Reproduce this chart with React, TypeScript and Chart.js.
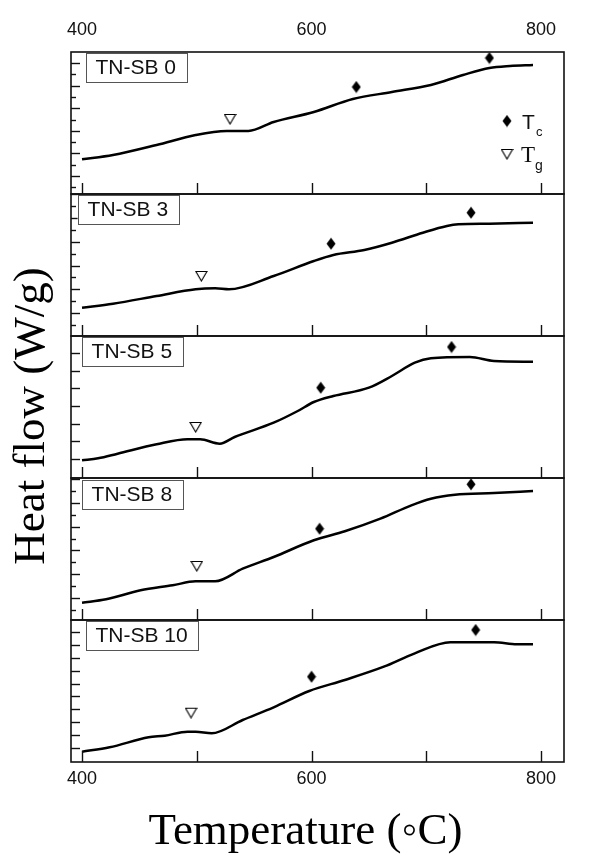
import React, { useEffect, useRef } from 'react';
import { Chart, registerables } from 'chart.js';

Chart.register(...registerables);

// ---- data (heat flow in arbitrary units, offset per panel) ----
const panelNames = ['TN-SB 0', 'TN-SB 3', 'TN-SB 5', 'TN-SB 8', 'TN-SB 10'];

const temp0 = [400, 427, 465, 499, 526, 545, 567, 602, 636, 670, 704, 732, 755, 773, 793];
const flow0 = [3.47, 3.9, 4.9, 5.9, 6.3, 6.3, 7.2, 8.2, 9.5, 10.2, 10.9, 11.9, 12.6, 12.8, 12.9];

const temp1 = [400, 427, 465, 499, 516, 528, 567, 602, 619, 646, 670, 697, 718, 728, 755, 793];
const flow1 = [2.83, 3.23, 4.0, 4.67, 4.77, 4.67, 6.0, 7.5, 8.1, 8.6, 9.33, 10.33, 11.0, 11.17, 11.23, 11.33];

const temp2 = [400, 414, 431, 465, 492, 503, 520, 533, 567, 588, 602, 619, 650, 670, 690, 704, 738, 759, 793];
const flow2 = [1.77, 1.97, 2.43, 3.37, 3.87, 3.87, 3.43, 4.1, 5.53, 6.7, 7.6, 8.2, 9.03, 10.2, 11.53, 11.97, 12.1, 11.7, 11.63];

const temp3 = [400, 421, 451, 479, 499, 516, 540, 567, 602, 629, 660, 687, 704, 725, 759, 793];
const flow3 = [1.73, 2.07, 2.97, 3.47, 3.87, 3.87, 5.13, 6.3, 7.97, 8.87, 10.13, 11.47, 12.13, 12.53, 12.7, 12.9];

const temp4 = [400, 424, 458, 472, 492, 499, 513, 540, 567, 598, 629, 663, 690, 721, 759, 779, 793];
const flow4 = [1.03, 1.47, 2.47, 2.63, 3.03, 3.03, 2.87, 4.2, 5.47, 7.1, 8.2, 9.53, 10.87, 11.97, 11.97, 11.77, 11.77];

const tgTemp = [529, 504, 499, 500, 495];
const tgFlow = [7.5, 6.0, 5.1, 5.4, 4.93];
const tcLowTemp = [639, 617, 608, 607, 600];
const tcLowFlow = [10.7, 9.23, 9.03, 9.13, 8.53];
const tcHighTemp = [755, 739, 722, 739, 743];
const tcHighFlow = [13.6, 12.33, 13.1, 13.57, 13.2];

const xTickValues = [400, 500, 600, 700, 800];
const xTickLabels = ['400', '', '600', '', '800'];
const yTickStart = [1.8, 2.3, 1.9, 2.2, 1.4];
const yTickStep = [2.26, 2.37, 1.77, 2.38, 1.29];
const yMinorTicks = [true, true, false, true, false];

const temps = [temp0, temp1, temp2, temp3, temp4];
const flows = [flow0, flow1, flow2, flow3, flow4];

const xTitle = 'Temperature (\u25E6C)';
const yTitle = 'Heat flow (W/g)';

// ---- styling ----
const labelBoxOffset = [14.5, 6.6, 10.6, 10.6, 14.5];
const labelBoxTop = [1, 1, 1, 2, 1];

function makeDiamond(): HTMLCanvasElement {
  const c = document.createElement('canvas');
  c.width = 10;
  c.height = 13;
  const g = c.getContext('2d')!;
  g.fillStyle = '#000';
  g.beginPath();
  g.moveTo(5, 0.5);
  g.lineTo(9.5, 6.5);
  g.lineTo(5, 12.5);
  g.lineTo(0.5, 6.5);
  g.closePath();
  g.fill();
  return c;
}

function makeNabla(): HTMLCanvasElement {
  const c = document.createElement('canvas');
  c.width = 13;
  c.height = 12;
  const g = c.getContext('2d')!;
  g.strokeStyle = '#000';
  g.lineWidth = 1.1;
  g.beginPath();
  g.moveTo(1, 1.5);
  g.lineTo(12, 1.5);
  g.lineTo(6.5, 11);
  g.closePath();
  g.stroke();
  return c;
}

export default function App() {
  const ref = useRef<HTMLCanvasElement | null>(null);

  useEffect(() => {
    if (!ref.current) return;
    const diamond = makeDiamond();
    const nabla = makeNabla();
    const ids = ['y0', 'y1', 'y2', 'y3', 'y4'];

    const datasets: any[] = [];
    ids.forEach((id, i) => {
      datasets.push({
        label: panelNames[i],
        data: temps[i].map((t, k) => ({ x: t, y: flows[i][k] })),
        yAxisID: id,
        xAxisID: 'x',
        borderColor: '#000',
        borderWidth: 2.5,
        pointRadius: 0,
        cubicInterpolationMode: 'monotone',
        fill: false,
      });
      datasets.push({
        label: panelNames[i] + ' Tc',
        data: [
          { x: tcLowTemp[i], y: tcLowFlow[i] },
          { x: tcHighTemp[i], y: tcHighFlow[i] },
        ],
        yAxisID: id,
        xAxisID: 'x',
        showLine: false,
        pointStyle: diamond,
        pointRadius: 6,
      });
      datasets.push({
        label: panelNames[i] + ' Tg',
        data: [{ x: tgTemp[i], y: tgFlow[i] }],
        yAxisID: id,
        xAxisID: 'x',
        showLine: false,
        pointStyle: nabla,
        pointRadius: 6,
      });
    });

    const scales: any = {
      x: { type: 'linear', min: 390.4, max: 820, display: false },
    };
    ids.forEach((id, i) => {
      scales[id] = {
        type: 'linear',
        min: 0,
        max: 14.2,
        display: false,
        position: 'left',
        stack: 'panels',
        stackWeight: 1,
        weight: 5 - i,
      };
    });

    const decor = {
      id: 'decor',
      afterDatasetsDraw(chart: any) {
        const ctx = chart.ctx as CanvasRenderingContext2D;
        const area = chart.chartArea;
        const xs = chart.scales.x;
        ctx.save();
        ids.forEach((id, i) => {
          const ys = chart.scales[id];
          // frame
          ctx.strokeStyle = '#111';
          ctx.lineWidth = 1.6;
          ctx.strokeRect(area.left, ys.top, area.right - area.left, ys.bottom - ys.top);
          // x ticks (inward, from bottom edge)
          ctx.lineWidth = 1.4;
          xTickValues.forEach((v) => {
            const px = Math.round(xs.getPixelForValue(v)) + 0.5;
            ctx.beginPath();
            ctx.moveTo(px, ys.bottom);
            ctx.lineTo(px, ys.bottom - 11);
            ctx.stroke();
          });
          // y ticks (inward, from left edge)
          const step = yTickStep[i];
          for (let v = yTickStart[i]; v < ys.max; v += step) {
            const py = Math.round(ys.getPixelForValue(v)) + 0.5;
            ctx.beginPath();
            ctx.moveTo(area.left, py);
            ctx.lineTo(area.left + 9, py);
            ctx.stroke();
          }
          if (yMinorTicks[i]) {
            for (let v = yTickStart[i] - step / 2; v < ys.max; v += step) {
              if (v <= ys.min) continue;
              const py = Math.round(ys.getPixelForValue(v)) + 0.5;
              ctx.beginPath();
              ctx.moveTo(area.left, py);
              ctx.lineTo(area.left + 5, py);
              ctx.stroke();
            }
          }
          // panel label box
          ctx.font = '21px "Liberation Sans", Arial, sans-serif';
          const tw = ctx.measureText(panelNames[i]).width;
          const bx = area.left + labelBoxOffset[i];
          const by = ys.top + labelBoxTop[i];
          const bw = tw + 20;
          const bh = 29;
          ctx.fillStyle = '#fff';
          ctx.fillRect(bx, by, bw, bh);
          ctx.strokeStyle = '#555';
          ctx.lineWidth = 1;
          ctx.strokeRect(Math.round(bx) + 0.5, Math.round(by) + 0.5, Math.round(bw), bh);
          ctx.fillStyle = '#111';
          ctx.textAlign = 'left';
          ctx.textBaseline = 'middle';
          ctx.fillText(panelNames[i], bx + 10, by + bh / 2 + 1);
        });

        // x tick labels, top and bottom
        ctx.font = '18px "Liberation Sans", Arial, sans-serif';
        ctx.fillStyle = '#111';
        ctx.textAlign = 'center';
        ctx.textBaseline = 'middle';
        xTickValues.forEach((v, k) => {
          if (!xTickLabels[k]) return;
          const px = xs.getPixelForValue(v);
          ctx.fillText(xTickLabels[k], px, area.top - 22);
          ctx.fillText(xTickLabels[k], px, area.bottom + 17);
        });

        // legend in top panel
        const y0s = chart.scales.y0;
        const lx = area.left + 436;
        const ly1 = y0s.top + 69;
        const ly2 = y0s.top + 102;
        ctx.drawImage(diamond, lx - diamond.width / 2, ly1 - diamond.height / 2);
        ctx.drawImage(nabla, lx - nabla.width / 2, ly2 - nabla.height / 2);
        ctx.textAlign = 'left';
        ctx.textBaseline = 'alphabetic';
        ctx.font = '21px "Liberation Sans", Arial, sans-serif';
        ctx.fillText('T', lx + 15, ly1 + 8);
        ctx.font = '13px "Liberation Sans", Arial, sans-serif';
        ctx.fillText('c', lx + 29, ly1 + 15);
        ctx.font = '23px "Liberation Serif", "Times New Roman", serif';
        ctx.fillText('T', lx + 14, ly2 + 8);
        ctx.font = '14px "Liberation Sans", Arial, sans-serif';
        ctx.fillText('g', lx + 28, ly2 + 16);

        // axis titles
        ctx.fillStyle = '#000';
        ctx.font = '45px "Liberation Serif", "Times New Roman", serif';
        ctx.textAlign = 'center';
        ctx.textBaseline = 'alphabetic';
        ctx.fillText(xTitle, (area.left + area.right) / 2 - 12, area.bottom + 82);
        ctx.save();
        ctx.translate(44, (area.top + area.bottom) / 2 + 9);
        ctx.rotate(-Math.PI / 2);
        ctx.fillText(yTitle, 0, 0);
        ctx.restore();
        ctx.restore();
      },
    };

    const chart = new Chart(ref.current, {
      type: 'line',
      data: { datasets },
      options: {
        animation: false,
        responsive: false,
        devicePixelRatio: 1,
        layout: { padding: { left: 71, right: 51, top: 52, bottom: 106 } },
        scales,
        plugins: {
          legend: { display: false },
          tooltip: { enabled: false },
        },
      } as any,
      plugins: [decor],
    });
    return () => chart.destroy();
  }, []);

  return (
    <div style={{ position: 'fixed', left: 0, top: 0, width: 615, height: 868, background: '#fff' }}>
      <canvas ref={ref} width={615} height={868} style={{ display: 'block' }} />
    </div>
  );
}
